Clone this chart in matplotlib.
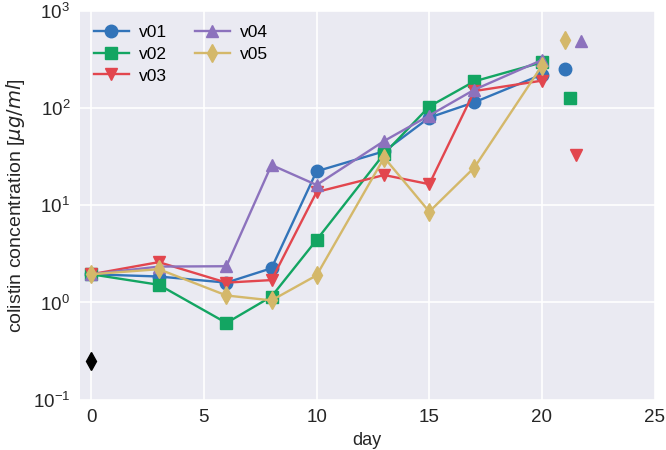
import matplotlib
matplotlib.use("Agg")
import matplotlib.pyplot as plt
import numpy as np

days = [0, 3, 6, 8, 10, 13, 15, 17, 20]
v01 = [1.95, 1.85, 1.60, 2.25, 22.4, 36.0, 80, 115, 222]
v02 = [1.95, 1.52, 0.615, 1.15, 4.4, 34.0, 104, 189, 296]
v03 = [1.95, 2.60, 1.60, 1.70, 13.7, 20.5, 16.5, 150, 192]
v04 = [1.95, 2.34, 2.36, 26.0, 16.2, 46.0, 84, 155, 313]
v05 = [1.95, 2.20, 1.18, 1.05, 1.90, 31.0, 8.6, 24.5, 274]

extra_days = [21.0, 21.25, 21.5, 21.75, 21.0]
extra_vals = [254, 127, 32.7, 495, 507]

ref_day = [0]
ref_val = [0.248]

names = ["v01", "v02", "v03", "v04", "v05"]
colors = ["#3274B9", "#13A562", "#E2464E", "#8C72BD", "#D4B86A"]
markers = ["o", "s", "v", "^", "d"]
series = [v01, v02, v03, v04, v05]

plt.rcParams["font.family"] = ["Liberation Sans", "DejaVu Sans"]
plt.rcParams["font.size"] = 12

fig = plt.figure(figsize=(6.66, 4.5), dpi=100)
ax = fig.add_axes([0.12, 0.112, 0.863, 0.8635])
ax.set_facecolor("#EAEAF2")
for s in ax.spines.values():
    s.set_visible(False)
ax.grid(True, color="white", linewidth=1.2)
ax.set_axisbelow(True)
ax.tick_params(length=0, pad=7, labelsize=13.5, colors="#262626")

for name, vals, c, m in zip(names, series, colors, markers):
    ax.plot(days, vals, color=c, marker=m, markersize=9, linewidth=1.7, label=name)
for d, v, c, m in zip(extra_days, extra_vals, colors, markers):
    ax.plot([d], [v], color=c, marker=m, markersize=9, linestyle="none")
ax.plot(ref_day, ref_val, color="black", marker="d", markersize=9, linestyle="none")

ax.set_yscale("log")
ax.set_ylim(0.1, 1000)
ax.set_xlim(-0.5, 25)
ax.set_xticks([0, 5, 10, 15, 20, 25])
ax.minorticks_off()
ax.set_xlabel("day", fontsize=13, color="#262626", labelpad=4)
ax.set_ylabel(r"colistin concentration [$\mu g/ml$]", fontsize=14, color="#262626", labelpad=4)
ax.legend(loc="upper left", ncol=2, frameon=False, fontsize=12.5, numpoints=1,
          handlelength=2.0, handletextpad=0.6, labelspacing=0.38, columnspacing=1.6,
          borderaxespad=0.4)

fig.savefig("out.png", dpi=100)
